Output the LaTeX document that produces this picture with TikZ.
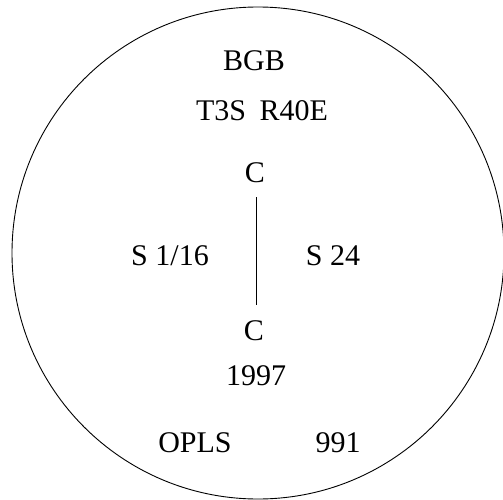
\documentclass[tikz,border=0pt]{standalone}
\usepackage{fontspec}
\setmainfont{Liberation Serif}
\begin{document}
\begin{tikzpicture}[x=1pt,y=-1pt,
  lbl/.style={inner sep=0pt,anchor=base,font=\fontsize{30}{36}\selectfont},
  bond/.style={draw,line width=0.9pt},
  rim/.style={draw,line width=0.9pt}]
\useasboundingbox (0,0) rectangle (503,500);
\draw[rim] (258,253) circle[radius=246];
\node[lbl] (bgb) at (254,71) {BGB};
\node[lbl] (t3s) at (262,121) {T3S\hspace{0.45em}R40E};
\node[lbl] (c1) at (255,182) {C};
\node[lbl] (s116) at (170,265) {S 1/16};
\node[lbl] (s24) at (333,265) {S 24};
\node[lbl] (c2) at (254,340) {C};
\node[lbl] (yr) at (256,385) {1997};
\node[lbl] (opls) at (195,452) {OPLS};
\node[lbl] (n991) at (338,452) {991};
\draw[bond,shorten <=15pt,shorten >=15pt] (c1.south -| 256,0) -- (c2.north -| 256,0);
\end{tikzpicture}
\end{document}
